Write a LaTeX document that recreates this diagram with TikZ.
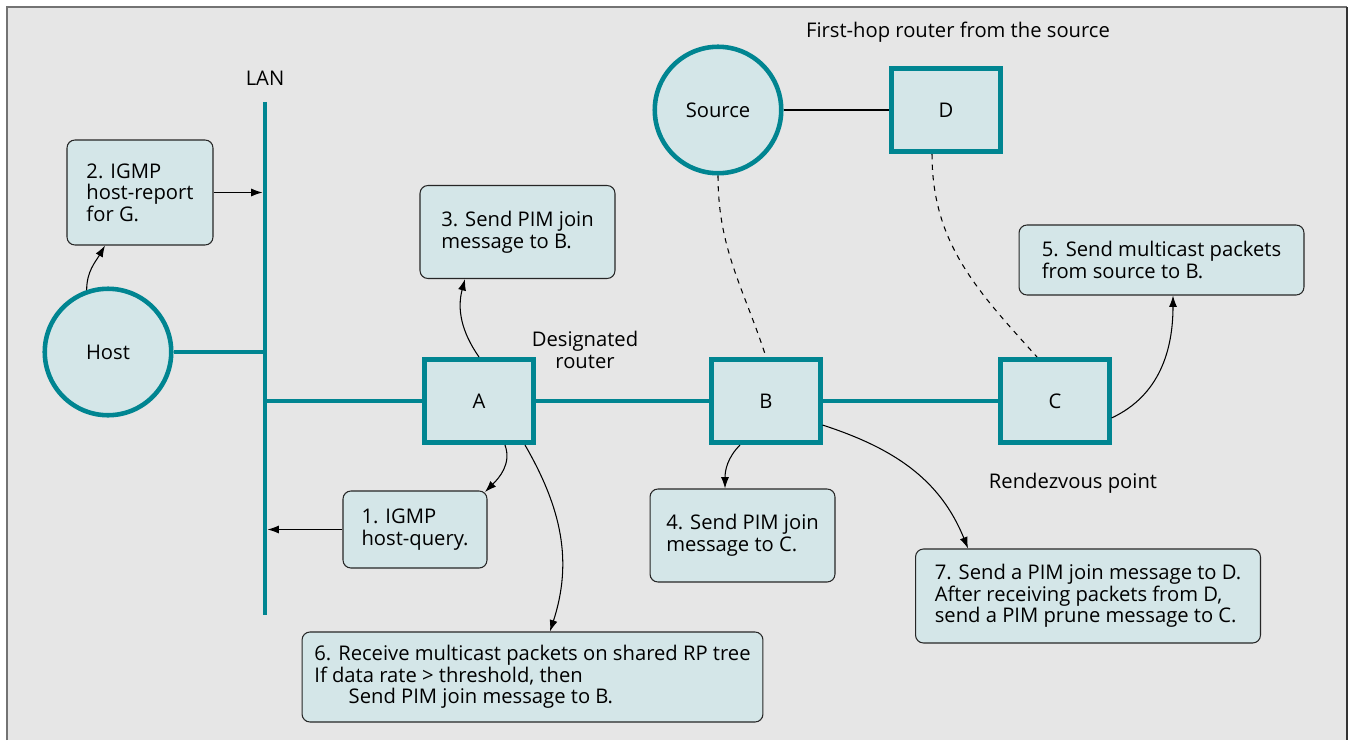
\documentclass[tikz,border=0pt]{standalone}
\usepackage{fontspec}
\setmainfont{Open Sans}
\usetikzlibrary{arrows.meta}
\definecolor{teal}{RGB}{0,133,145}
\definecolor{pale}{RGB}{212,230,232}
\definecolor{bgray}{RGB}{230,230,230}
\definecolor{fgray}{RGB}{115,115,115}
\begin{document}
\fontsize{11.5}{12.3}\selectfont
\begin{tikzpicture}[x=0.02cm,y=-0.02cm]
    	\tikzstyle{router}=[rectangle, draw=teal, fill=pale, line width=2.6pt, minimum width=2.17cm, minimum height=1.67cm]
    	\tikzstyle{station}=[circle, draw=teal, fill=pale, line width=2.6pt, minimum size=2.53cm]
    	\tikzstyle{note}=[draw=black!85, fill=pale, rounded corners=4.5pt, line width=0.6pt, align=left, inner sep=0pt]
    	\tikzstyle{link}=[teal, line width=2.8pt]
    	\tikzstyle{msg}=[-{Latex[length=6.5pt,width=4.6pt]}, line width=0.6pt]
    	
    	\useasboundingbox (0,0) rectangle (1351,740);
    	% Frame
    	\fill[bgray] (7,7) rectangle (1347,740);
    	\draw[fgray, line width=1.3pt] (7,740) -- (7,7) -- (1347,7);
    	\draw[black!80, line width=1.3pt] (1347,7) -- (1347,740);
    	
    	% LAN
    	\coordinate (lantop) at (265,102);
    	\coordinate (lanbot) at (265,615);
    	\node at (265,78) (lan) {LAN};
    	\draw[link] (lantop) -- (lanbot);
    	
    	% Hosts and routers
    	\node at (108,352) [station] (host) {Host};
    	\node at (718,110) [station] (source) {Source};
    	\node at (479,401) [router] (A) {A};
    	\node at (766,401) [router] (B) {B};
    	\node at (1055,401) [router] (C) {C};
    	\node at (946,110) [router] (D) {D};
    	
    	\node at (958,32) (firsthop) {First-hop router from the source};
    	\node at (585,350) [align=center] (desig) {Designated\\router};
    	\node at (1073,483) (rp) {Rendezvous point};
    	
    	\draw[link] (host.east) -- (host.east -| lantop);
    	\draw[link] (A.west -| lantop) -- (A.west);
    	\draw[link] (A) -- (B);
    	\draw[link] (B) -- (C);
    	\draw[line width=1.3pt] (source) -- (D);
    	\draw[dashed, line width=0.6pt] (source.south) to[out=-90, in=108] (B.north);
    	\draw[dashed, line width=0.6pt] ([xshift=-0.28cm]D.south) to[out=-90, in=132] ([xshift=-0.36cm]C.north);
    	
    	% Messages
    	\node at (140,192.5) [note, minimum width=2.92cm, minimum height=2.1cm] (note2) {2. IGMP\\host-report\\for G.};
    	\node at (517.5,232) [note, minimum width=3.9cm, minimum height=1.86cm] (note3) {3. Send PIM join\\message to B.};
    	\node at (415,529.5) [note, minimum width=2.88cm, minimum height=1.54cm] (note1) {1. IGMP\\host-query.};
    	\node at (742.5,535.5) [note, minimum width=3.7cm, minimum height=1.86cm] (note4) {4. Send PIM join\\message to C.};
    	\node at (1161.5,260) [note, minimum width=5.7cm, minimum height=1.4cm] (note5) {5. Send multicast packets\\from source to B.};
    	\node at (532.5,677) [note, minimum width=9.22cm, minimum height=1.8cm] (note6) {6. Receive multicast packets on shared RP tree\\If data rate > threshold, then\\\hspace*{1.7em}Send PIM join message to B.};
    	\node at (1088,596) [note, minimum width=6.9cm, minimum height=1.88cm] (note7) {7. Send a PIM join message to D.\\After receiving packets from D,\\send a PIM prune message to C.};
    	
    	\draw[msg] (host.109) to[out=90, in=-120] ([xshift=-0.7cm]note2.south);
    	\draw[msg, shorten >=1.4pt] (note2.east) -- (note2.east -| lantop);
    	\draw[msg] (A.north) to[out=125, in=-105] ([xshift=-1.05cm]note3.south);
    	\draw[msg] ([xshift=0.52cm]A.south) to[out=-70, in=45] ([xshift=-0.05cm,yshift=-0.03cm]note1.north east);
    	\draw[msg, shorten >=1.4pt] (note1.west) -- (note1.west -| lantop);
    	\draw[msg] ([xshift=0.92cm]A.south) to[out=-60, in=72] ([xshift=0.35cm]note6.north);
    	\draw[msg] ([xshift=-0.52cm]B.south) to[out=-135, in=90] ([xshift=-0.35cm]note4.north);
    	\draw[msg] ([yshift=0.4cm]B.south east) to[out=-18, in=112] ([xshift=-2.4cm]note7.north);
    	\draw[msg] ([yshift=-0.34cm]C.east) to[out=25, in=-90] ([xshift=0.23cm]note5.south);
    \end{tikzpicture}
\end{document}
